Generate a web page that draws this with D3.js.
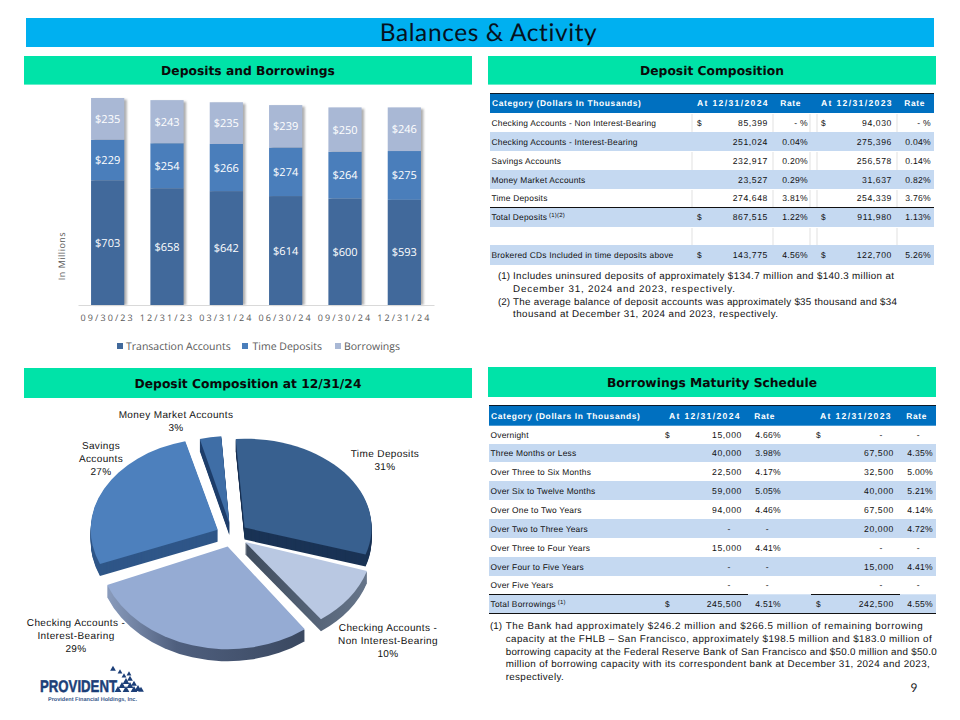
<!DOCTYPE html>
<html><head><meta charset="utf-8">
<script src="https://cdn.jsdelivr.net/npm/d3@7"></script>
<style>
html,body{margin:0;padding:0;background:#fff}
svg{display:block}
text{text-rendering:geometricPrecision}
.t{font-family:"Liberation Sans",Arial,sans-serif;font-size:8.4px;letter-spacing:.22px;fill:#111}
.n{font-family:"Liberation Sans",Arial,sans-serif;font-size:8.6px;letter-spacing:.6px;fill:#111}
.r{font-family:"Liberation Sans",Arial,sans-serif;font-size:8.6px;letter-spacing:.3px;fill:#111}
.h{font-family:"Liberation Sans",Arial,sans-serif;font-size:8.4px;font-weight:bold;letter-spacing:.65px;fill:#fff}
.hd{font-family:"Liberation Sans",Arial,sans-serif;font-size:8.6px;font-weight:bold;letter-spacing:1.35px;fill:#fff}
.fn{font-family:"Liberation Sans",Arial,sans-serif;font-size:9.8px;fill:#111}
.sec{font-family:"DejaVu Sans",sans-serif;font-size:12.3px;font-weight:bold;fill:#0a0a0a;text-anchor:middle}
.pl{font-family:"Liberation Sans",Arial,sans-serif;font-size:10px;letter-spacing:.38px;fill:#111;text-anchor:middle}
.bl{font-family:"Open Sans",sans-serif;font-size:11px;fill:#fff;text-anchor:middle}
</style></head><body>
<svg id="c" width="960" height="720" viewBox="0 0 960 720"></svg>
<script>
// ---- bar chart data ----
const barDates = ["09/30/23","12/31/23","03/31/24","06/30/24","09/30/24","12/31/24"];
const seriesNames = ["Transaction Accounts","Time Deposits","Borrowings"];
const transactionAccounts = [703,658,642,614,600,593];
const timeDeposits = [229,254,266,274,264,275];
const borrowings = [235,243,235,239,250,246];
// ---- pie data ----
const pieNames = ["Time Deposits","Checking Accounts - Non Interest-Bearing","Checking Accounts - Interest-Bearing","Savings Accounts","Money Market Accounts"];
const pieValues = [31,10,29,27,3];
// ---- deposit composition table ----
const depHeader = ["Category (Dollars In Thousands)","At 12/31/2024","Rate","At 12/31/2023","Rate"];
const depCategories = ["Checking Accounts - Non Interest-Bearing","Checking Accounts - Interest-Bearing","Savings Accounts","Money Market Accounts","Time Deposits","Total Deposits","","Brokered CDs Included in time deposits above"];
const dep2024 = ["85,399","251,024","232,917","23,527","274,648","867,515","","143,775"];
const depRate2024 = ["- %","0.04%","0.20%","0.29%","3.81%","1.22%","","4.56%"];
const dep2023 = ["94,030","275,396","256,578","31,637","254,339","911,980","","122,700"];
const depRate2023 = ["- %","0.04%","0.14%","0.82%","3.76%","1.13%","","5.26%"];
const depDollar = [1,0,0,0,0,1,0,1];
const depNotes = [["(1)","Includes uninsured deposits of approximately $134.7 million and $140.3 million at"],["","December 31, 2024 and 2023, respectively."],["(2)","The average balance of deposit accounts was approximately $35 thousand and $34"],["","thousand at December 31, 2024 and 2023, respectively."]];
// ---- borrowings table ----
const borCategories = ["Overnight","Three Months or Less","Over Three to Six Months","Over Six to Twelve Months","Over One to Two Years","Over Two to Three Years","Over Three to Four Years","Over Four to Five Years","Over Five Years","Total Borrowings"];
const bor2024 = ["15,000","40,000","22,500","59,000","94,000","-","15,000","-","-","245,500"];
const borRate2024 = ["4.66%","3.98%","4.17%","5.05%","4.46%","-","4.41%","-","-","4.51%"];
const bor2023 = ["-","67,500","32,500","40,000","67,500","20,000","-","15,000","-","242,500"];
const borRate2023 = ["-","4.35%","5.00%","5.21%","4.14%","4.72%","-","4.41%","-","4.55%"];
const borDollar = [1,0,0,0,0,0,0,0,0,1];
const borNotes = [["(1)","The Bank had approximately $246.2 million and $266.5 million of remaining borrowing"],["","capacity at the FHLB \u2013 San Francisco, approximately $198.5 million and $183.0 million of"],["","borrowing capacity at the Federal Reserve Bank of San Francisco and $50.0 million and $50.0"],["","million of borrowing capacity with its correspondent bank at December 31, 2024 and 2023,"],["","respectively."]];

const svg = d3.select("#c");
const defs = svg.append("defs");
defs.append("filter").attr("id","soft").append("feGaussianBlur").attr("stdDeviation",1.2);
const ibSide = defs.append("linearGradient").attr("id","ibSide").attr("x1",0).attr("x2",1).attr("y1",0).attr("y2",0);
ibSide.append("stop").attr("offset","0%").attr("stop-color","#8a9cbd");
ibSide.append("stop").attr("offset","35%").attr("stop-color","#4f5f7e");
ibSide.append("stop").attr("offset","100%").attr("stop-color","#3a4860");
const tdSide = defs.append("linearGradient").attr("id","nibSide").attr("x1",0).attr("x2",1).attr("y1",0).attr("y2",0);
tdSide.append("stop").attr("offset","0%").attr("stop-color","#3f4c5e");
tdSide.append("stop").attr("offset","100%").attr("stop-color","#66758a");

// banners
svg.append("rect").attr("x",26).attr("y",18).attr("width",908).attr("height",29).attr("fill","#00b0f0");
svg.append("text").attr("x",488.5).attr("y",41).attr("text-anchor","middle").attr("font-family","Lato,sans-serif").attr("font-size",24.5).attr("letter-spacing",".6").attr("fill","#06121f").text("Balances & Activity");
const sections=[["Deposits and Borrowings",24,56,28.6],["Deposit Composition",488,56,28.6],["Deposit Composition at 12/31/24",24,368,30],["Borrowings Maturity Schedule",488,367,30]];
sections.forEach(([t,x,y,h])=>{
  svg.append("rect").attr("x",x).attr("y",y).attr("width",448).attr("height",h).attr("fill","#00e3a8");
  svg.append("text").attr("class","sec").attr("x",x+224).attr("y",y+h/2+4.5).text(t);
});

// ---- stacked bars ----
const stackRows = barDates.map((d,i)=>({date:d,[seriesNames[0]]:transactionAccounts[i],[seriesNames[1]]:timeDeposits[i],[seriesNames[2]]:borrowings[i]}));
const stacked = d3.stack().keys(seriesNames)(stackRows);
const x = d3.scaleBand().domain(barDates).range([78,434]).paddingInner(.44).paddingOuter(.22);
const y = d3.scaleLinear().domain([0,1167]).range([305,98]);
const barColor = d3.scaleOrdinal().domain(seriesNames).range(["#41699b","#4a7ebb","#a9b8d5"]);
const bg = svg.append("g");
bg.append("g").selectAll("rect").data(stackRows).join("rect")
  .attr("x",d=>x(d.date)+2.5).attr("width",x.bandwidth())
  .attr("y",d=>y(d[seriesNames[0]]+d[seriesNames[1]]+d[seriesNames[2]])+1.5)
  .attr("height",d=>305-y(d[seriesNames[0]]+d[seriesNames[1]]+d[seriesNames[2]])-1.5)
  .attr("fill","#9a9a9a").attr("filter","url(#soft)").attr("opacity",.8);
stacked.forEach(s=>{
  bg.append("g").selectAll("rect").data(s).join("rect")
    .attr("x",d=>x(d.data.date)).attr("width",x.bandwidth())
    .attr("y",d=>y(d[1])).attr("height",d=>y(d[0])-y(d[1])).attr("fill",barColor(s.key));
  bg.append("g").selectAll("text").data(s).join("text").attr("class","bl")
    .attr("x",d=>x(d.data.date)+x.bandwidth()/2).attr("y",d=>(y(d[0])+y(d[1]))/2+4)
    .text(d=>"$"+(d[1]-d[0]));
});
const ax = bg.append("g").attr("transform","translate(0,305)").call(d3.axisBottom(x).tickSize(0).tickPadding(10));
ax.select(".domain").attr("stroke","#d9d9d9").attr("stroke-width",1);
ax.selectAll("text").attr("font-family","'Open Sans',sans-serif").attr("font-size",9).attr("letter-spacing","2.1").attr("fill","#595959");
bg.append("text").attr("transform","translate(65,256) rotate(-90)").attr("text-anchor","middle").attr("font-family","'Open Sans',sans-serif").attr("font-size",9).attr("letter-spacing",".5").attr("fill","#595959").text("In Millions");
const legendX=[117,242,335], legendGap=[9,10.5,9];
seriesNames.forEach((n,i)=>{
  bg.append("rect").attr("x",legendX[i]).attr("y",343).attr("width",6).attr("height",6).attr("fill",barColor(n));
  bg.append("text").attr("x",legendX[i]+legendGap[i]).attr("y",349.7).attr("font-family","'Open Sans',sans-serif").attr("font-size",10.5).attr("fill","#595959").text(n);
});

// ---- exploded 3D pie ----
const squash=.75, depth=12, explode=16;
const sliceRadius=[127,128,130,127,116];
const sliceSquash=[.70,.75,.79,.72,.75];
const pieCx=232, pieCy=535;
const pieTop=["#38608f","#b9c8e2","#95abd3","#4d80bd","#3f6ea6"];
const pieSide=["#1a3355","url(#nibSide)","url(#ibSide)","#2f5688","#1f3f6b"];
const arcs=d3.pie().sort(null).startAngle(-4*Math.PI/180).endAngle(356*Math.PI/180)(pieValues);
const pg=svg.append("g").attr("transform",`translate(${pieCx},${pieCy})`);
const order=[4,3,0,1,2];
order.forEach(i=>{
  const a=arcs[i], mid=(a.startAngle+a.endAngle)/2;
  const arc=d3.arc().innerRadius(0).outerRadius(sliceRadius[i]);
  const dx=Math.sin(mid)*explode, dy=-Math.cos(mid)*explode*squash;
  const g=pg.append("g").attr("transform",`translate(${dx},${dy})`);
  d3.range(depth,0,-1).forEach(k=>{
    g.append("path").attr("d",arc(a)).attr("transform",`translate(0,${k}) scale(1,${sliceSquash[i]})`).attr("fill",pieSide[i]);
  });
  g.append("path").attr("d",arc(a)).attr("transform",`scale(1,${sliceSquash[i]})`).attr("fill",pieTop[i]);
});
const pieLabels=[
 [[385,457,"Time Deposits"],[385,470,"31%"]],
 [[388,631,"Checking Accounts -"],[388,644,"Non Interest-Bearing"],[388,657,"10%"]],
 [[76,626,"Checking Accounts -"],[76,639,"Interest-Bearing"],[76,652,"29%"]],
 [[101,449,"Savings"],[101,462,"Accounts"],[101,475,"27%"]],
 [[176,418,"Money Market Accounts"],[176,431,"3%"]]
];
pieLabels.forEach(ls=>ls.forEach(([lx,ly,t])=>{
  svg.append("text").attr("class","pl").attr("x",lx).attr("y",ly).text(t);
}));

// ---- tables ----
function drawTable(o){
  const g=svg.append("g");
  g.append("rect").attr("x",o.x0).attr("y",o.top).attr("width",o.x1-o.x0).attr("height",o.rowY[0]-o.top).attr("fill","#0070c0");
  g.append("line").attr("x1",o.x0).attr("x2",o.x1).attr("y1",o.top).attr("y2",o.top).attr("stroke","#0a1a2a").attr("stroke-width",1);
  const hy=o.top+(o.rowY[0]-o.top)/2+3;
  g.append("text").attr("class","h").attr("x",o.x0+2).attr("y",hy).text(o.header[0]);
  o.hRight.forEach((hx,i)=>g.append("text").attr("class",i%2?"h":"hd").attr("x",hx).attr("y",hy).attr("text-anchor","end").text(o.header[i+1]));
  o.cats.forEach((c,i)=>{
    const y0=o.rowY[i], y1=o.rowY[i+1], ty=(y0+y1)/2+3;
    if(i%2===o.blueMod) g.append("rect").attr("x",o.x0).attr("y",y0).attr("width",o.x1-o.x0).attr("height",y1-y0).attr("fill","#c5d9f1");
    else (o.seps||[]).forEach(sx=>g.append("line").attr("x1",sx).attr("x2",sx).attr("y1",y0+1).attr("y2",y1).attr("stroke","#d9d9d9").attr("stroke-width",.8));
    const tx=g.append("text").attr("class","t").attr("x",o.x0+1.5).attr("y",ty).text(c);
    if(o.sup&&o.sup[i]) tx.append("tspan").attr("dy",-3).attr("font-size",6).text(" "+o.sup[i]);
    if(o.dollar[i]){
      g.append("text").attr("class","t").attr("x",o.dX[0]).attr("y",ty).text("$");
      g.append("text").attr("class","t").attr("x",o.dX[1]).attr("y",ty).text("$");
    }
    [[o.v1,o.vR[0]],[o.r1,o.vR[1]],[o.v2,o.vR[2]],[o.r2,o.vR[3]]].forEach(([arr,rx],k)=>{
      const v=arr[i];
      if(!v) return;
      let xx=rx;
      if(v==="-") xx=o.dashX[k];
      g.append("text").attr("class",k%2?"r":"n").attr("x",xx).attr("y",ty).attr("text-anchor","end").text(v);
    });
  });
  (o.rules||[]).forEach(r=>g.append("line").attr("x1",r[0]).attr("x2",r[1]).attr("y1",r[2]).attr("y2",r[2]).attr("stroke","#111").attr("stroke-width",1));
  o.notes.forEach((n,i)=>{
    if(n[0]) g.append("text").attr("class","fn").attr("x",o.noteX[0]).attr("y",o.noteY[i]).text(n[0]);
    g.append("text").attr("class","fn").attr("x",o.noteX[1]).attr("y",o.noteY[i]).attr("textLength",o.noteW[i]).attr("lengthAdjust","spacing").text(n[1]);
  });
}
drawTable({x0:490,x1:934,top:93.5,rowY:[113,132,151,170,189,207,227,245,265],header:depHeader,hRight:[769,801,893,925],
  cats:depCategories,v1:dep2024,r1:depRate2024,v2:dep2023,r2:depRate2023,dollar:depDollar,dX:[697,821],vR:[768,808,892,931],dashX:[768,808,892,931],
  blueMod:1,seps:[692,773,810,817,897],sup:{5:"(1)(2)"},rules:[[490,934,207.5]],
  notes:depNotes,noteX:[498,513],noteY:[279,292,305,317],noteW:[381,222,384,265]});
drawTable({x0:489,x1:936,top:405.5,rowY:[425.7,444,462,481,500,519,538,557,576,594.3,613.3],header:depHeader,hRight:[741,775,892,927],
  cats:borCategories,v1:bor2024,r1:borRate2024,v2:bor2023,r2:borRate2023,dollar:borDollar,dX:[665,816],vR:[742,781,894,933],dashX:[731,769,883,920],
  blueMod:1,sup:{9:"(1)"},rules:[[489,748,594.5],[811,900,594.5],[489,936,613.5]],
  notes:borNotes,noteX:[490,505.7],noteY:[629,642,655,667,680],noteW:[417,426,431,424,58]});

// page number
svg.append("text").attr("x",914).attr("y",692).attr("text-anchor","middle").attr("font-family","Lato,sans-serif").attr("font-size",12).attr("fill","#222").text("9");

// logo
const logo=svg.append("g");
logo.append("text").attr("x",40).attr("y",692).attr("font-family","'Liberation Sans',sans-serif").attr("font-weight","bold").attr("font-size",17).attr("fill","#1c3f78").attr("stroke","#1c3f78").attr("stroke-width",.5).attr("textLength",77).attr("lengthAdjust","spacingAndGlyphs").text("PROVIDENT");
logo.append("text").attr("x",48).attr("y",700.5).attr("font-family","'Liberation Sans',sans-serif").attr("font-weight","bold").attr("font-size",5.6).attr("fill","#3a5a8c").attr("textLength",89).attr("lengthAdjust","spacingAndGlyphs").text("Provident Financial Holdings, Inc.");
[[118,690,3.5],[122,686,3.5],[126,690,3.5],[126,682,3.5],[130,686,3.5],[134,690,3.5],[130,679,3],[134,684,3],[138,689,3.5],[141,690,3],[124,676,2.5],[129,674,2.5],[113,669,3],[120,672,2.5]].forEach(([a,b,s])=>{
  logo.append("path").attr("d",d3.symbol(d3.symbolTriangle,s*s*1.6)()).attr("transform",`translate(${a},${b})`).attr("fill","#1c3f78");
});
</script></body></html>
